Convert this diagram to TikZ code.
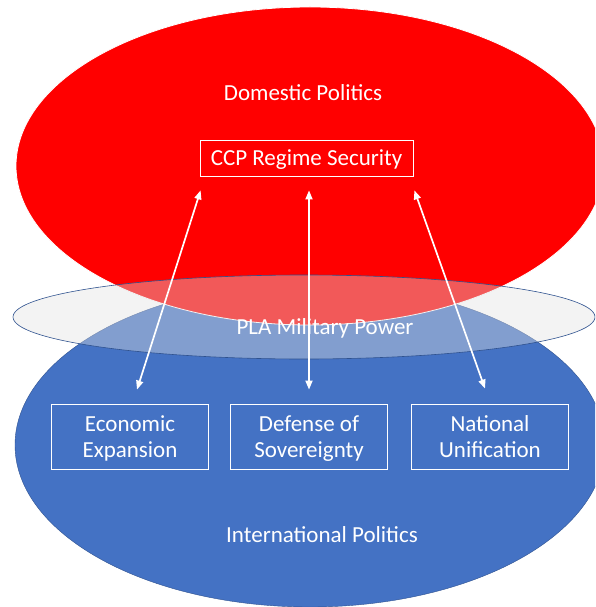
\documentclass[tikz,border=0pt]{standalone}
\usepackage{fontspec}
\setmainfont{Carlito}
\usepackage{tikz}
\usetikzlibrary{arrows.meta}

\definecolor{domred}{HTML}{FF0000}
\definecolor{intblue}{HTML}{4472C4}
\definecolor{rimblue}{HTML}{2F528F}
\definecolor{plagrey}{HTML}{E0E0E0}

\tikzset{
  goalbox/.style={draw=white, thick, align=center, inner sep=0pt,
    text depth=0pt, minimum width=157pt, minimum height=65pt},
  twoway/.style={white, line width=1.7pt,
    {Triangle[length=9pt,width=7pt]}-{Triangle[length=9pt,width=7pt]}}
}

\begin{document}
\begin{tikzpicture}[x=1pt, y=-1pt, text=white,
  font=\fontsize{23}{26}\selectfont]

\useasboundingbox (0,0) rectangle (595,607);
\clip (0,0) rectangle (595,607);

%%%%%%%%%%%%%%%%%%%%%%%%%%%%
\draw[fill=intblue, draw=rimblue, thin] 
(310,445) ellipse [x radius=295pt, y radius=162pt];

\draw[fill=domred, draw=white, thick] 
(310,166) ellipse [x radius=294pt, y radius=159pt];

\draw[fill=plagrey, fill opacity=0.4, draw=rimblue, semithick] 
(304,317) ellipse [x radius=291pt, y radius=42pt];

%%%%%%%%%%%%%%%%%%%%%%%%%%%%
\node (dom) at (303,93) {Domestic Politics};
\node (pla) at (325,328) {PLA Military Power};
\node (intl) at (322,535) {International Politics};

\node [draw=white, thick, minimum width=213pt, minimum height=36pt, inner sep=0pt,
  text depth=0pt] 
(ccp) at (306.5,158) {CCP Regime Security};

\node [goalbox] (econ) at (130,436.5) {Economic\\Expansion};
\node [goalbox] (sov) at (309,436.5) {Defense of\\Sovereignty};
\node [goalbox] (unif) at (490,436.5) {National\\Unification};

%%%%%%%%%%%%%%%%%%%%%%%%%%%%
\draw[twoway] ([xshift=1pt,yshift=-14pt]ccp.south west) -- ([xshift=7pt,yshift=14pt]econ.north);
\draw[twoway] ([xshift=2.5pt,yshift=-14pt]ccp.south) -- ([yshift=14pt]sov.north);
\draw[twoway] ([xshift=1pt,yshift=-14pt]ccp.south east) -- ([xshift=-5pt,yshift=15pt]unif.north);

\end{tikzpicture}
\end{document}
